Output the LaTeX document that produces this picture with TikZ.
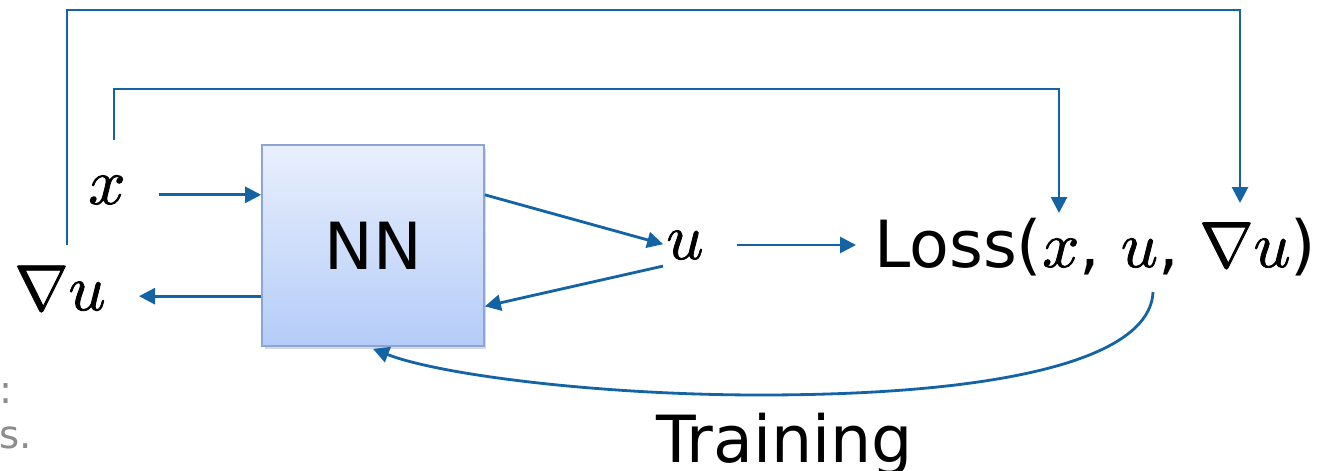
\documentclass[tikz,border=0pt]{standalone}
\usepackage{fontspec}
\usepackage{unicode-math}
\setmainfont{DejaVu Sans}
\setmathfont[FakeBold=1.2]{Latin Modern Math}
\usetikzlibrary{arrows.meta,shadows,calc}

\definecolor{flow}{RGB}{20,100,165}
\definecolor{boxtop}{RGB}{233,239,253}
\definecolor{boxbot}{RGB}{180,204,248}
\definecolor{boxline}{RGB}{140,165,210}
\definecolor{fadedtext}{RGB}{140,140,140}

\begin{document}
\begin{tikzpicture}[x=0.02cm,y=-0.02cm,
  link/.style={draw=flow,line width=1.6pt,-{Triangle[length=0.32cm,width=0.32cm]}},
  lbl/.style={font=\fontsize{37}{44}\selectfont,inner sep=0pt},
  nnbox/.style={lbl,draw=boxline,line width=1pt,top color=boxtop,bottom color=boxbot,
    minimum width=4.44cm,minimum height=4.02cm,
    drop shadow={opacity=0.3,shadow xshift=0.05cm,shadow yshift=-0.07cm}},
  faded/.style={text=fadedtext,font=\fontsize{22}{26}\selectfont,inner sep=0pt,anchor=base west}]
\useasboundingbox (0,0) rectangle (1322,470);

% network block and the quantities around it
\node[nnbox] (nn) at (373,245.5) {NN};
\node[lbl] (xin) at (107,190) {$x$};
\node[lbl] (gu) at (60,289) {$\nabla u$};
\node[lbl] (u) at (685,245) {$u$};
\node[lbl,anchor=base west] (loss) at (874,267) {Loss($x$, $u$, $\nabla u$)};
\node[lbl,anchor=base west] (train) at (656,462) {Training};

% clipped caption fragments at the left edge
\node[faded] (cutA) at (-1,403) {:};
\node[faded] (cutB) at (-1,448) {s.};

% attachment points on the block sides
\coordinate (nnInL)  at ($(nn.south west)!0.75!(nn.north west)$);
\coordinate (nnOutL) at ($(nn.south west)!0.25!(nn.north west)$);
\coordinate (nnOutR) at ($(nn.south east)!0.75!(nn.north east)$);
\coordinate (nnInR)  at ($(nn.south east)!0.2!(nn.north east)$);

% start points of the feedback lines, their corners and drop points on the loss
\coordinate (guTop) at ([xshift=0.14cm,yshift=0.4cm]gu.north);
\coordinate (xTop)  at ([xshift=0.14cm,yshift=0.7cm]xin.north);
\coordinate (cornerG) at (1240,10);
\coordinate (cornerX) at (1059,89);
\coordinate (lossX) at (1059,213);
\coordinate (lossG) at (1240,203);
\coordinate (trainStart) at (1153,292);

% forward pass
\draw[link,shorten <=0.67cm] (xin.east |- nnInL) -- (nnInL);
\draw[link,shorten >=0.66cm] (nnOutL) -- (gu.east |- nnOutL);
\draw[link,shorten >=0.06cm] (nnOutR) -- (u.west);
\draw[link] ([shift={(-0.06cm,-0.12cm)}]u.south west) -- (nnInR);
\draw[link,shorten <=0.66cm,shorten >=0.36cm] (u.east) -- (u.east -| loss.west);

% inputs fed to the loss
\draw[link] (guTop) |- (cornerG) -- (lossG);
\draw[link] (xTop) |- (cornerX) -- (lossX);

% training feedback
\draw[link] (trainStart) .. controls (1150,360) and (1000,395) .. (760,395)
  .. controls (600,395) and (440,375) .. ([yshift=-0.04cm]nn.south);
\end{tikzpicture}
\end{document}
